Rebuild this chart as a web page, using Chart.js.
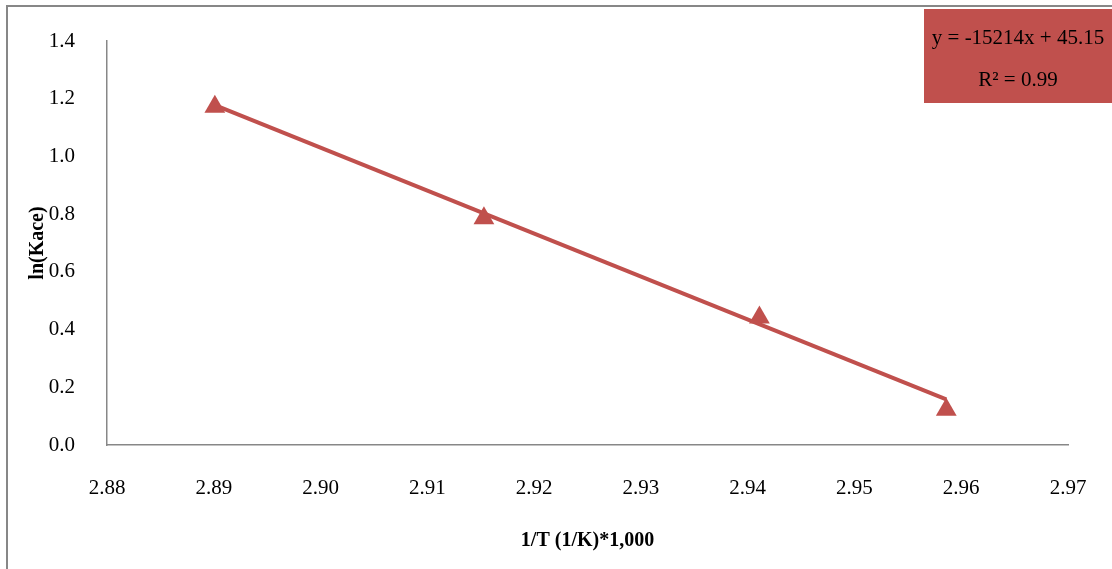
<!DOCTYPE html>
<html>
<head>
<meta charset="utf-8">
<script src="https://cdn.jsdelivr.net/npm/chart.js@4"></script>
<style>
  html, body { margin: 0; padding: 0; background: #fff; }
  #wrap { width: 1112px; height: 569px; }
</style>
</head>
<body>
<div id="wrap"><canvas id="chart" width="1112" height="569"></canvas></div>
<script>
// values
const invT = [2.8901, 2.9153, 2.9411, 2.9586]
const lnKace = [1.172, 0.786, 0.442, 0.122]
const trendX = [2.8901, 2.9586]
const trendY = [1.178, 0.158]
const equation = ['y = -15214x + 45.15', 'R\u00B2 = 0.99']

const red = '#C0504D'
const axisGrey = '#878787'
const serif = "'Liberation Serif', 'Times New Roman', serif"

// outer frame + equation box
const decor = {
    id: 'decor',
    beforeDraw(c) {
        const ctx = c.ctx
        ctx.save()
        ctx.strokeStyle = axisGrey
        ctx.lineWidth = 2
        ctx.strokeRect(7, 6, 1300, 800)
        ctx.restore()
    },
    afterDraw(c) {
        const ctx = c.ctx
        ctx.save()
        ctx.fillStyle = red
        ctx.fillRect(924, 9, 200, 94)
        ctx.fillStyle = '#000'
        ctx.font = '21px ' + serif
        ctx.textAlign = 'center'
        ctx.textBaseline = 'middle'
        ctx.fillText(equation[0], 1018, 38)
        ctx.fillText(equation[1], 1018, 80)
        ctx.restore()
    }
}

const chart = document.querySelector('#chart').getContext('2d')

new Chart(chart, {
    type: 'scatter',
    data: {
        datasets: [
            {
                label: 'trend',
                data: trendX.map((x, i) => ({ x: x, y: trendY[i] })),
                showLine: true,
                borderColor: red,
                borderWidth: 4,
                pointRadius: 0
            },
            {
                label: 'ln(Kace)',
                data: invT.map((x, i) => ({ x: x, y: lnKace[i] })),
                pointStyle: 'triangle',
                pointRadius: 12,
                backgroundColor: red,
                borderColor: red,
                borderWidth: 0
            }
        ]
    },
    options: {
        responsive: false,
        animation: false,
        layout: { padding: { top: 41, right: 44, left: 0, bottom: 0 } },
        plugins: { legend: { display: false }, tooltip: { enabled: false } },
        scales: {
            x: {
                type: 'linear',
                min: 2.88,
                max: 2.97,
                grid: { display: false, drawTicks: false },
                border: { display: true, color: axisGrey, width: 1.5 },
                ticks: {
                    stepSize: 0.01,
                    padding: 31,
                    color: '#000',
                    font: { family: serif, size: 21 },
                    callback: v => v.toFixed(2)
                },
                title: {
                    display: true,
                    text: '1/T (1/K)*1,000',
                    color: '#000',
                    font: { family: serif, size: 20, weight: 'bold' },
                    padding: { top: 0, bottom: 16 }
                },
                afterFit: s => {
                    s.height = 124
                    s.paddingLeft = 0
                    s.paddingRight = 0
                }
            },
            y: {
                min: 0,
                max: 1.4,
                grid: { display: false, drawTicks: false },
                border: { display: true, color: axisGrey, width: 1.5 },
                ticks: {
                    stepSize: 0.2,
                    padding: 32,
                    color: '#000',
                    font: { family: serif, size: 21 },
                    callback: v => v.toFixed(1)
                },
                title: {
                    display: true,
                    text: 'ln(Kace)',
                    color: '#000',
                    font: { family: serif, size: 20, weight: 'bold' },
                    padding: { top: 26, bottom: 0 }
                },
                afterFit: s => {
                    s.width = 107
                    s.paddingTop = 0
                    s.paddingBottom = 0
                }
            }
        }
    },
    plugins: [decor]
})
</script>
</body>
</html>
